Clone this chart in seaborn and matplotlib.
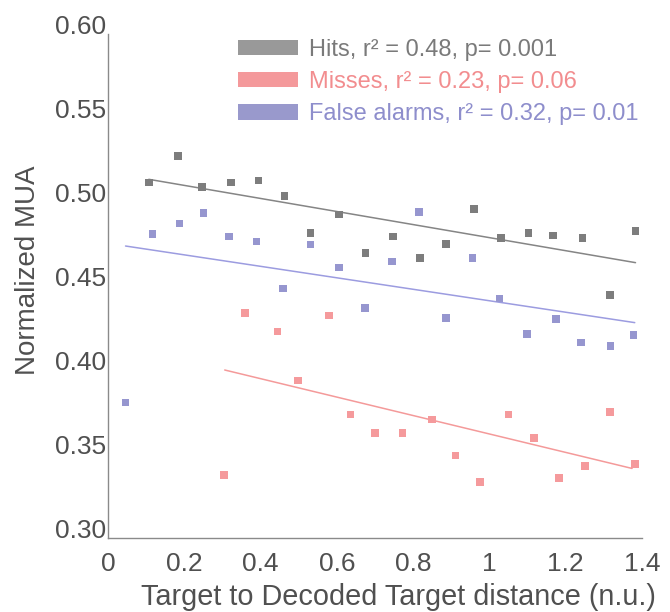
import matplotlib
matplotlib.use("Agg")
import matplotlib.pyplot as plt
import numpy as np
import pandas as pd
import seaborn as sns
from matplotlib.patches import Patch

# ---------------- data ----------------
hits_x = [0.107, 0.184, 0.247, 0.323, 0.395, 0.463, 0.531, 0.605, 0.675, 0.747,
          0.818, 0.886, 0.960, 1.030, 1.102, 1.166, 1.244, 1.316, 1.383]
hits_y = [0.5115, 0.5274, 0.5091, 0.5115, 0.5129, 0.5036, 0.4817, 0.4925, 0.4698, 0.4794,
          0.4665, 0.4750, 0.4960, 0.4786, 0.4817, 0.4800, 0.4786, 0.4448, 0.4829]

miss_x = [0.304, 0.359, 0.444, 0.498, 0.580, 0.636, 0.700, 0.772, 0.850, 0.911,
          0.975, 1.050, 1.117, 1.182, 1.250, 1.316, 1.382]
miss_y = [0.3374, 0.4338, 0.4229, 0.3938, 0.4324, 0.3734, 0.3626, 0.3626, 0.3706, 0.3492,
          0.3332, 0.3734, 0.3596, 0.3356, 0.3428, 0.3750, 0.3442]

fa_x = [0.046, 0.117, 0.187, 0.250, 0.317, 0.389, 0.459, 0.531, 0.605, 0.673,
        0.745, 0.815, 0.886, 0.956, 1.026, 1.099, 1.174, 1.240, 1.317, 1.378]
fa_y = [0.3806, 0.4808, 0.4873, 0.4933, 0.4794, 0.4766, 0.4486, 0.4748, 0.4611, 0.4369,
        0.4647, 0.4940, 0.4310, 0.4665, 0.4425, 0.4214, 0.4302, 0.4163, 0.4143, 0.4209]

# regression line end points
hits_fit_x = [0.107, 1.383]
hits_fit_y = [0.5135, 0.4639]
miss_fit_x = [0.306, 1.374]
miss_fit_y = [0.4000, 0.3414]
fa_fit_x = [0.046, 1.381]
fa_fit_y = [0.4738, 0.4282]

conditions = ["Hits", "Misses", "False alarms"]
legend_labels = ["Hits, r\u00b2 = 0.48, p= 0.001",
                 "Misses, r\u00b2 = 0.23, p= 0.06",
                 "False alarms, r\u00b2 = 0.32, p= 0.01"]
x_ticks = [0, 0.2, 0.4, 0.6, 0.8, 1.0, 1.2, 1.4]
x_ticklabels = ["0", "0.2", "0.4", "0.6", "0.8", "1", "1.2", "1.4"]
y_ticks = [0.30, 0.35, 0.40, 0.45, 0.50, 0.55, 0.60]
y_ticklabels = ["0.30", "0.35", "0.40", "0.45", "0.50", "0.55", "0.60"]

# ---------------- styling ----------------
marker_colors = {"Hits": "#7d7d7d", "Misses": "#f59a9c", "False alarms": "#9696cf"}
line_colors = {"Hits": "#858585", "Misses": "#f49a9a", "False alarms": "#9c9ce0"}
patch_colors = ["#999999", "#f4999b", "#9999cc"]
text_colors = ["#7a7a7a", "#f28d8f", "#8e8ecc"]
axis_color = "#8a8a8a"
label_color = "#505050"

sns.set_style("white")
plt.rcParams["font.family"] = ["Liberation Sans", "DejaVu Sans"]

df = pd.DataFrame({
    "x": hits_x + miss_x + fa_x,
    "y": hits_y + miss_y + fa_y,
    "cond": ["Hits"] * len(hits_x) + ["Misses"] * len(miss_x) + ["False alarms"] * len(fa_x),
})
fit_df = pd.DataFrame({
    "x": hits_fit_x + miss_fit_x + fa_fit_x,
    "y": hits_fit_y + miss_fit_y + fa_fit_y,
    "cond": ["Hits"] * 2 + ["Misses"] * 2 + ["False alarms"] * 2,
})

fig = plt.figure(figsize=(6.7, 6.12), dpi=100)
W, H = 670, 612
ax_l, ax_r, ax_t, ax_b = 108, 642, 34, 538
ax = fig.add_axes([ax_l / W, 1 - ax_b / H, (ax_r - ax_l) / W, (ax_b - ax_t) / H])

sns.lineplot(data=fit_df, x="x", y="y", hue="cond", palette=line_colors,
             estimator=None, linewidth=1.1, legend=False, ax=ax, zorder=2)
sns.scatterplot(data=df, x="x", y="y", hue="cond", palette=marker_colors,
                marker="s", s=30, linewidth=0, legend=False, ax=ax, zorder=3)

ax.set_xlim(0, 1.4)
ax.set_ylim(0.30, 0.60)
ax.set_xticks(x_ticks, x_ticklabels)
ax.set_yticks(y_ticks, y_ticklabels)
for t in ax.get_yticklabels():
    t.set_va("baseline")

for s in ["top", "right"]:
    ax.spines[s].set_visible(False)
for s in ["left", "bottom"]:
    ax.spines[s].set_color(axis_color)
    ax.spines[s].set_linewidth(1.0)

ax.tick_params(axis="both", direction="in", length=4, width=1.0, color=axis_color,
               labelsize=19, labelcolor=label_color)
ax.tick_params(axis="x", pad=10.0)
ax.tick_params(axis="y", pad=1.5)

ax.set_xlabel("Target to Decoded Target distance (n.u.)", fontsize=20.8, color=label_color)
ax.set_ylabel("Normalized MUA", fontsize=20, color=label_color)
ax.xaxis.set_label_coords((398.5 - ax_l) / (ax_r - ax_l), -(583 - ax_b) / (ax_b - ax_t))
ax.yaxis.set_label_coords(-(ax_l - 41) / (ax_r - ax_l), (ax_b - 270) / (ax_b - ax_t))

handles = [Patch(facecolor=c, edgecolor="none", linewidth=0) for c in patch_colors]
fs = 17
leg = ax.legend(handles, legend_labels, loc="upper left",
                bbox_to_anchor=(238 / W, 1 - 39 / H), bbox_transform=fig.transFigure,
                frameon=False, fontsize=fs, borderpad=0, borderaxespad=0,
                handlelength=2.55, handleheight=0.62, handletextpad=0.45,
                labelspacing=0.43, labelcolor=text_colors)

fig.savefig("out.png", dpi=100)
